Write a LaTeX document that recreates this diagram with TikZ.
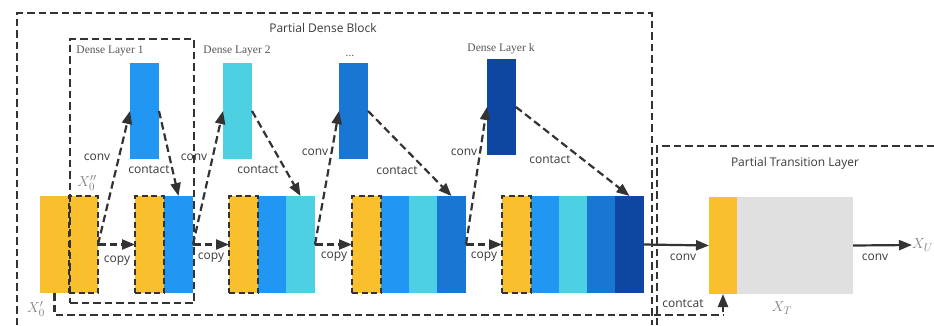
\documentclass[tikz,border=0pt]{standalone}
\usepackage{fontspec}
\setmainfont{Liberation Serif}
\setsansfont{Open Sans}
\usetikzlibrary{arrows.meta,calc}

\definecolor{cyel}{HTML}{F9BF2D}
\definecolor{cblue}{HTML}{2196F3}
\definecolor{ccyan}{HTML}{4DD0E1}
\definecolor{cmid}{HTML}{1976D2}
\definecolor{cdark}{HTML}{0D47A1}
\definecolor{cgray}{HTML}{E0E0E0}
\definecolor{cline}{HTML}{333333}
\definecolor{ctext}{HTML}{3A3A3A}
\definecolor{cttl}{HTML}{555555}
\definecolor{cmath}{HTML}{808080}

\begin{document}
\begin{tikzpicture}[x=1pt,y=-1pt,
  seg/.style={anchor=north west, inner sep=0pt, outer sep=0pt, minimum height=97pt, minimum width=29pt, draw=none},
  yseg/.style={seg, fill=cyel, draw=cline, line width=1.8pt, dash pattern=on 6pt off 3.5pt},
  bar/.style={anchor=north west, inner sep=0pt, outer sep=0pt, minimum width=29pt, minimum height=96pt},
  dashline/.style={draw=cline, line width=2.2pt, dash pattern=on 7.5pt off 4pt},
  dasharrow/.style={dashline, -{Triangle[length=13pt,width=10pt]}},
  solidarrow/.style={draw=cline, line width=2.2pt, -{Triangle[length=13pt,width=10pt]}},
  lbl/.style={font=\sffamily\fontsize{12}{14}\selectfont, text=ctext, inner sep=0pt},
  ttl/.style={font=\rmfamily\fontsize{11.5}{13}\selectfont, text=cttl, inner sep=0pt},
  mth/.style={text=cmath, font=\fontsize{15}{17}\selectfont, inner sep=0pt},
]
\useasboundingbox (0,0) rectangle (934,325);

% outer frames (run past the lower edge)
\draw[dashline] (17,325) -- (17,13) -- (652,13) -- (652,325);
\draw[dashline] (657,325) -- (657,146) -- (934,146);
\node[lbl] (tdense) at (323,28) {Partial Dense Block};
\node[lbl] (ttrans) at (795,163) {Partial Transition Layer};

% dense layer bars
\node[bar, fill=cblue] (l1) at (130,63) {};
\node[bar, fill=ccyan] (l2) at (223,63) {};
\node[bar, fill=cmid]  (l3) at (339,63) {};
\node[bar, fill=cdark] (lk) at (487,59) {};
\node[ttl] (t1) at (110,51) {Dense Layer 1};
\node[ttl] (t2) at (237,51) {Dense Layer 2};
\node[ttl] (t3) at (350,56) {...};
\node[ttl] (tk) at (501,49) {Dense Layer k};

% block 1
\node[seg, fill=cyel] (b1a) at (40,196) {};
\node[yseg] (b1b) at (69,196) {};
% block 2
\node[seg, fill=cblue] (b2b) at (164,196) {};
\node[yseg] (b2y) at (135,196) {};
% block 3
\node[seg, fill=cblue] (b3b) at (258,196) {};
\node[seg, fill=ccyan] (b3c) at (286,196) {};
\node[yseg] (b3y) at (229,196) {};
% block 4
\node[seg, fill=cblue] (b4b) at (381,196) {};
\node[seg, fill=ccyan] (b4c) at (409,196) {};
\node[seg, fill=cmid]  (b4m) at (437,196) {};
\node[yseg] (b4y) at (352,196) {};
% block 5
\node[seg, fill=cblue] (b5b) at (531,196) {};
\node[seg, fill=ccyan] (b5c) at (559,196) {};
\node[seg, fill=cmid]  (b5m) at (587,196) {};
\node[seg, fill=cdark] (b5d) at (615,196) {};
\node[yseg] (b5y) at (502,196) {};
% transition block
\node[seg, fill=cyel, minimum width=28pt] (ty) at (709,197) {};
\node[seg, fill=cgray, minimum width=116pt] (tg) at (737,197) {};

% dense layer 1 frame
\node[dashline, draw, anchor=north west, inner sep=0pt, minimum width=124pt, minimum height=264pt] (dl1) at (69,38) {};

% copy arrows
\draw[dasharrow] (b1b.east) -- (b2y.west);
\draw[dasharrow] (b2b.east) -- (b3y.west);
\draw[dasharrow] (b3c.east) -- (b4y.west);
\draw[dasharrow] (b4m.east) -- (b5y.west);
\node[lbl] (c1) at (117,261) {copy};
\node[lbl] (c2) at (211,258) {copy};
\node[lbl] (c3) at (334,257) {copy};
\node[lbl] (c4) at (484,257) {copy};

% conv arrows
\draw[dasharrow] (b1b.east) -- (l1.west);
\draw[dasharrow] (b2b.east) -- (l2.west);
\draw[dasharrow] (b3c.east) -- (l3.west);
\draw[dasharrow] (b4m.east) -- (lk.west);
\node[lbl] (v1) at (97,157) {conv};
\node[lbl] (v2) at (194,157) {conv};
\node[lbl] (v3) at (315,152) {conv};
\node[lbl] (v4) at (464,152) {conv};

% contact arrows
\draw[dasharrow] (l1.east) -- (b2b.north);
\draw[dasharrow] (l2.east) -- (b3c.north);
\draw[dasharrow] (l3.east) -- (b4m.north);
\draw[dasharrow] (lk.east) -- (b5d.north);
\node[lbl] (k1) at (149,170) {contact};
\node[lbl] (k2) at (258,170) {contact};
\node[lbl] (k3) at (397,171) {contact};
\node[lbl] (k4) at (550,160) {contact};

% transition
\draw[solidarrow] (b5d.east) -- (ty.west);
\node[lbl] (v5) at (683,257) {conv};
\coordinate (xu) at (912,245);
\draw[solidarrow] (tg.east) -- (xu);
\node[lbl] (v6) at (875,257) {conv};

% shortcut path of the first part
\coordinate (low) at (0,315);
\coordinate (lowend) at (ty.south |- low);
\draw[dashline] (b1a.south) |- (lowend);
\draw[solidarrow] ($(lowend)+(0,-3)$) -- (ty.south);
\node[lbl] (cc) at (683,304) {contcat};

% feature labels
\node[mth] (x0pp) at (87,183) {$X_0''$};
\node[mth] (x0p) at (36,309) {$X_0'$};
\node[mth] (xt) at (782,308) {$X_T$};
\node[mth, anchor=west] (xul) at (xu) {$X_U$};
\end{tikzpicture}
\end{document}
